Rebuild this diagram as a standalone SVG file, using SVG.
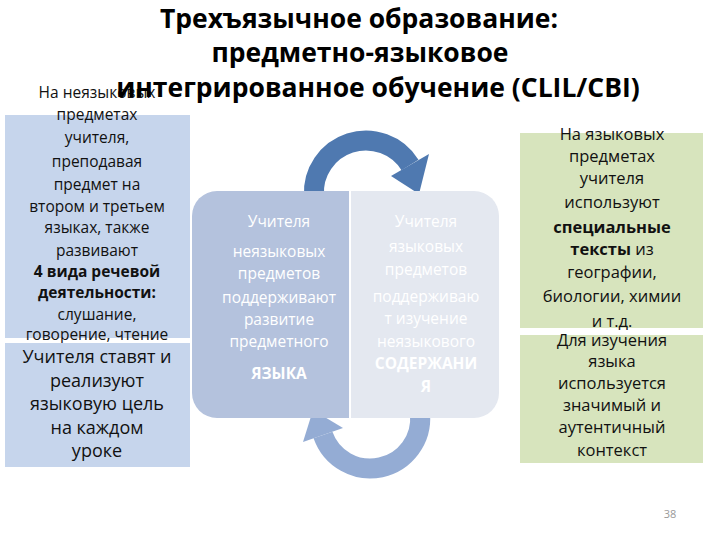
<svg xmlns="http://www.w3.org/2000/svg" width="720" height="540" viewBox="0 0 720 540">
<style>
text{font-family:"Open Sans","DejaVu Sans",sans-serif;text-anchor:middle}
.t{font-size:26.5px;font-weight:bold;fill:#000}
.l{font-size:15.5px;fill:#111}
.b{font-weight:bold}
.c{font-size:15.5px;fill:#fff}
</style>
<rect width="720" height="540" fill="#fff"/>
<g id="connectors">
<path d="M314 196 A52 52 0 0 1 410 165" fill="none" stroke="#4f79b0" stroke-width="20"/>
<polygon points="429,154 391,176 419,194" fill="#4f79b0"/>
<path d="M420 414 A50 50 0 0 1 323 435" fill="none" stroke="#94acd4" stroke-width="20"/>
<polygon points="303,442 343,428 313,410" fill="#94acd4"/>
</g>
<g id="left-top">
<rect x="5" y="115" width="185" height="223" fill="#c6d5ec"/>
<text class="l"><tspan x="97" y="98">На неязыковых</tspan><tspan x="97" y="120">предметах</tspan><tspan x="97" y="143">учителя,</tspan><tspan x="97" y="167">преподавая</tspan><tspan x="97" y="190">предмет на</tspan><tspan x="97" y="212">втором и третьем</tspan><tspan x="97" y="233">языках,  также</tspan><tspan x="97" y="256">развивают</tspan><tspan x="97" y="277" class="b">4 вида речевой</tspan><tspan x="97" y="298" class="b">деятельности:</tspan><tspan x="97" y="320">слушание,</tspan><tspan x="97" y="340">говорение, чтение</tspan></text>
</g>
<g id="left-bottom">
<rect x="5" y="343" width="185" height="124" fill="#c6d5ec"/>
<text class="l" style="font-size:18px"><tspan x="97" y="363">Учителя ставят и</tspan><tspan x="97" y="387">реализуют</tspan><tspan x="97" y="410">языковую цель</tspan><tspan x="97" y="434">на каждом</tspan><tspan x="97" y="457">уроке</tspan></text>
</g>
<g id="right-top">
<rect x="520" y="133" width="183" height="195" fill="#d7e4bd"/>
<text class="l" style="font-size:16.5px"><tspan x="612" y="140">На языковых</tspan><tspan x="612" y="162">предметах</tspan><tspan x="612" y="184">учителя</tspan><tspan x="612" y="208">используют</tspan><tspan x="612" y="233" class="b">специальные</tspan><tspan x="612" y="255"><tspan class="b">тексты</tspan> из</tspan><tspan x="612" y="278">географии,</tspan><tspan x="612" y="302">биологии, химии</tspan><tspan x="612" y="327">и т.д.</tspan></text>
</g>
<g id="right-bottom">
<rect x="520" y="335" width="183" height="128" fill="#d7e4bd"/>
<text class="l" style="font-size:16.5px"><tspan x="612" y="346">Для изучения</tspan><tspan x="612" y="367">языка</tspan><tspan x="612" y="389">используется</tspan><tspan x="612" y="411">значимый и</tspan><tspan x="612" y="433">аутентичный</tspan><tspan x="612" y="456">контекст</tspan></text>
</g>
<g id="center">
<path d="M217 191 H349 V418 H217 A25 25 0 0 1 192 393 V216 A25 25 0 0 1 217 191Z" fill="#b4c2dd"/>
<path d="M351 191 H474 A25 25 0 0 1 499 216 V393 A25 25 0 0 1 474 418 H351Z" fill="#e4e8f0"/>
<text class="c"><tspan x="279" y="227">Учителя</tspan><tspan x="279" y="257">неязыковых</tspan><tspan x="279" y="279">предметов</tspan><tspan x="279" y="303">поддерживают</tspan><tspan x="279" y="325">развитие</tspan><tspan x="279" y="347">предметного</tspan><tspan x="279" y="379" class="b">ЯЗЫКА</tspan></text>
<text class="c"><tspan x="426" y="227">Учителя</tspan><tspan x="426" y="252">языковых</tspan><tspan x="426" y="275">предметов</tspan><tspan x="426" y="302">поддерживаю</tspan><tspan x="426" y="324">т изучение</tspan><tspan x="426" y="347">неязыкового</tspan><tspan x="426" y="369" class="b">СОДЕРЖАНИ</tspan><tspan x="426" y="392" class="b">Я</tspan></text>
</g>
<g id="title">
<text class="t"><tspan x="359" y="28">Трехъязычное образование:</tspan><tspan x="360" y="62">предметно-языковое</tspan><tspan x="378" y="97">интегрированное обучение (CLIL/CBI)</tspan></text>
</g>
<text x="670" y="518" style="font-size:11px;fill:#999">38</text>
</svg>
